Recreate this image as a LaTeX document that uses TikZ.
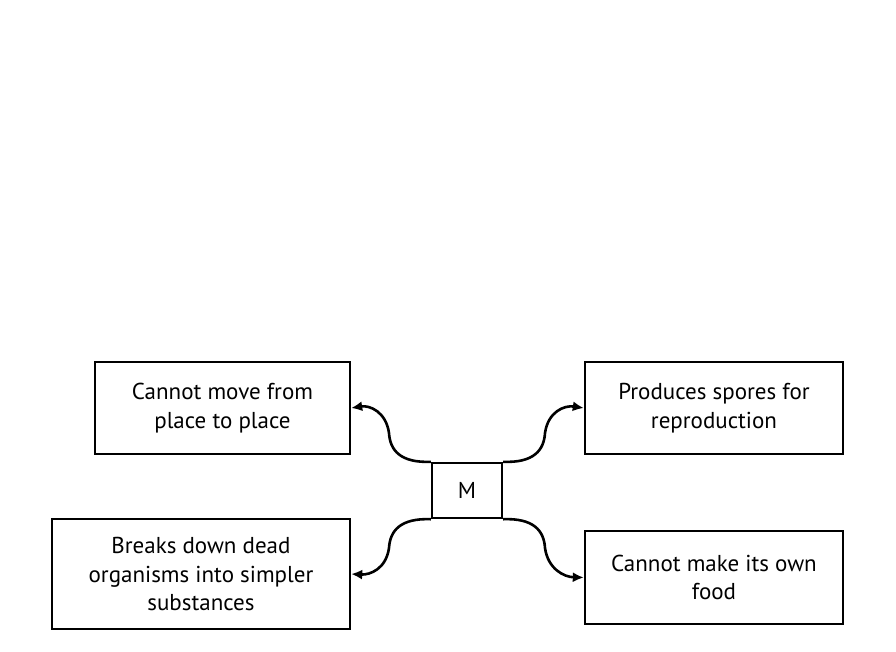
\documentclass[tikz,border=0pt]{standalone}
\usepackage{fontspec}
\setmainfont{PT Sans}
\usetikzlibrary{arrows.meta}
\begin{document}
\begin{tikzpicture}[x=1pt,y=-1pt,
  box/.style={draw,line width=2.4pt,align=center,inner sep=0pt,font=\fontsize{23}{28.5}\selectfont},
  conn/.style={line width=2.6pt,-{Latex[length=11pt,width=10pt]}}]
\useasboundingbox (0,0) rectangle (896,651);
\node[box,minimum width=255,minimum height=92] (tl) at (222.5,408) {Cannot move from\\place to place};
\node[box,minimum width=258,minimum height=92] (tr) at (714,408) {Produces spores for\\reproduction};
\node[box,minimum width=298,minimum height=110] (bl) at (201,574) {Breaks down dead\\organisms into simpler\\substances};
\node[box,minimum width=258,minimum height=93] (br) at (714,577.5) {Cannot make its own\\food};
\node[box,minimum width=70,minimum height=55] (m) at (467,490.5) {M};
\draw[conn] (m.north west) .. controls (400,463) and (390,450) .. (389,433) .. controls (386,412) and (370,405) .. (tl.east);
\draw[conn] (m.north east) .. controls (534,463) and (544,450) .. (545,433) .. controls (548,412) and (564,405) .. (tr.west);
\draw[conn] (m.south west) .. controls (400,518) and (390,531) .. (389,548) .. controls (386,569) and (370,575) .. (bl.east);
\draw[conn] (m.south east) .. controls (534,518) and (544,531) .. (545,548) .. controls (548,569) and (564,577) .. (br.west);
\end{tikzpicture}
\end{document}
